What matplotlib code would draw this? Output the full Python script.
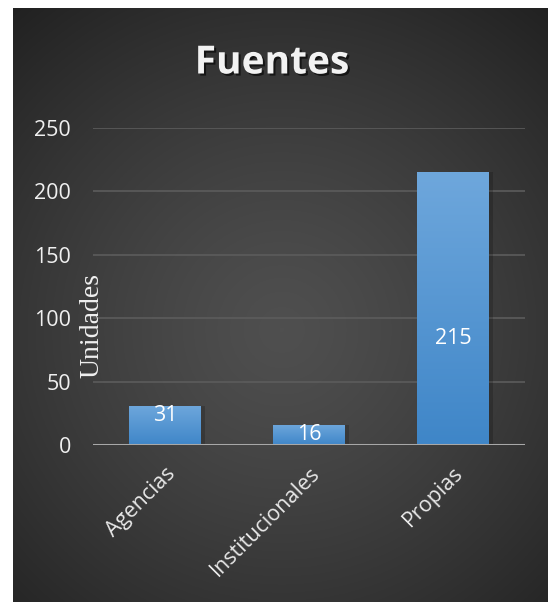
import numpy as np
import matplotlib
matplotlib.use("Agg")
import matplotlib.pyplot as plt
import matplotlib.patheffects as pe
from matplotlib.colors import LinearSegmentedColormap

categories = ["Agencias", "Institucionales", "Propias"]
values = [31, 16, 215]
yticks = [0, 50, 100, 150, 200, 250]
title = "Fuentes"
ylabel = "Unidades"

W, H = 548, 602
fig = plt.figure(figsize=(W / 100, H / 100), dpi=100)
fig.patch.set_facecolor("white")

# background panel with radial gradient
bx0, by0, bx1, by1 = 13, 8, 548, 602
bg = fig.add_axes([bx0 / W, 1 - by1 / H, (bx1 - bx0) / W, (by1 - by0) / H])
bg.set_axis_off()
nx, ny = 400, 440
xx, yy = np.meshgrid(np.linspace(bx0, bx1, nx), np.linspace(by0, by1, ny))
cx, cy = 282, 330
r = np.sqrt((xx - cx) ** 2 + (yy - cy) ** 2)
r = r / r.max()
c_in, c_out = 0.31, 0.13
g = c_in + (c_out - c_in) * np.clip(r, 0, 1) ** 1.3
img = np.dstack([g, g, g])
bg.imshow(img, extent=[0, 1, 0, 1], origin="upper", aspect="auto")
bg.set_xlim(0, 1)
bg.set_ylim(0, 1)

# main axes
ax_l, ax_r, ax_t, ax_b = 93, 525, 128, 445
ax = fig.add_axes([ax_l / W, 1 - ax_b / H, (ax_r - ax_l) / W, (ax_b - ax_t) / H])
ax.patch.set_alpha(0)
for s in ax.spines.values():
    s.set_visible(False)
ax.set_yticks(yticks)
ax.yaxis.grid(True, color="#5c5c5c", linewidth=1.2)
ax.set_axisbelow(True)
ax.tick_params(length=0)
ax.axhline(0, color="#a8a8a8", linewidth=2.2, zorder=4)

x = np.arange(len(categories))
bars = ax.bar(x, values, width=0.5, color="#5b9bd5", zorder=3)

grad_cmap = LinearSegmentedColormap.from_list("bg", ["#3f86c8", "#6ea7dc"])
for b in bars:
    sh = plt.Rectangle((b.get_x() + 0.03, 0), b.get_width(), b.get_height(),
                       color="black", alpha=0.18, zorder=2.5, lw=0)
    ax.add_patch(sh)
    gimg = np.linspace(0, 1, 100).reshape(-1, 1)
    im = ax.imshow(gimg, cmap=grad_cmap, origin="lower", aspect="auto",
                   extent=[b.get_x(), b.get_x() + b.get_width(), 0, b.get_height()],
                   zorder=3.1)
    im.set_clip_path(b)
ax.set_xlim(-0.5, len(categories) - 0.5)
ax.set_ylim(0, 250)

font = "Open Sans"
ax.set_xticks(x)
ax.set_xticklabels(categories, rotation=45, ha="right", rotation_mode="anchor",
                   fontsize=15.5, color="#e8e8e8", family=font)
ax.tick_params(axis="x", pad=13)
ax.tick_params(axis="y", pad=16)
for lab in ax.get_yticklabels():
    lab.set_fontsize(15.5)
    lab.set_color("#f0f0f0")
    lab.set_family(font)

# data labels
for xi, v in zip(x, values):
    if v > 100:
        ypos = v * 0.39
    else:
        ypos = v - 8
    ax.text(xi, ypos, str(v), ha="center", va="center", fontsize=15.5,
            color="white", family=font, zorder=5)

fig.text(272 / W, 1 - 63 / H, title, ha="center", va="center", fontsize=28,
         fontweight="bold", color="#f2f2f2", family=font,
         path_effects=[pe.withSimplePatchShadow(offset=(1.5, -1.5), shadow_rgbFace="black", alpha=0.6)])
fig.text(92 / W, 1 - 325 / H, ylabel, ha="center", va="center", rotation=90,
         fontsize=20, color="#f0f0f0", family="Liberation Serif")

fig.savefig("out.png", dpi=100, facecolor=fig.get_facecolor())
